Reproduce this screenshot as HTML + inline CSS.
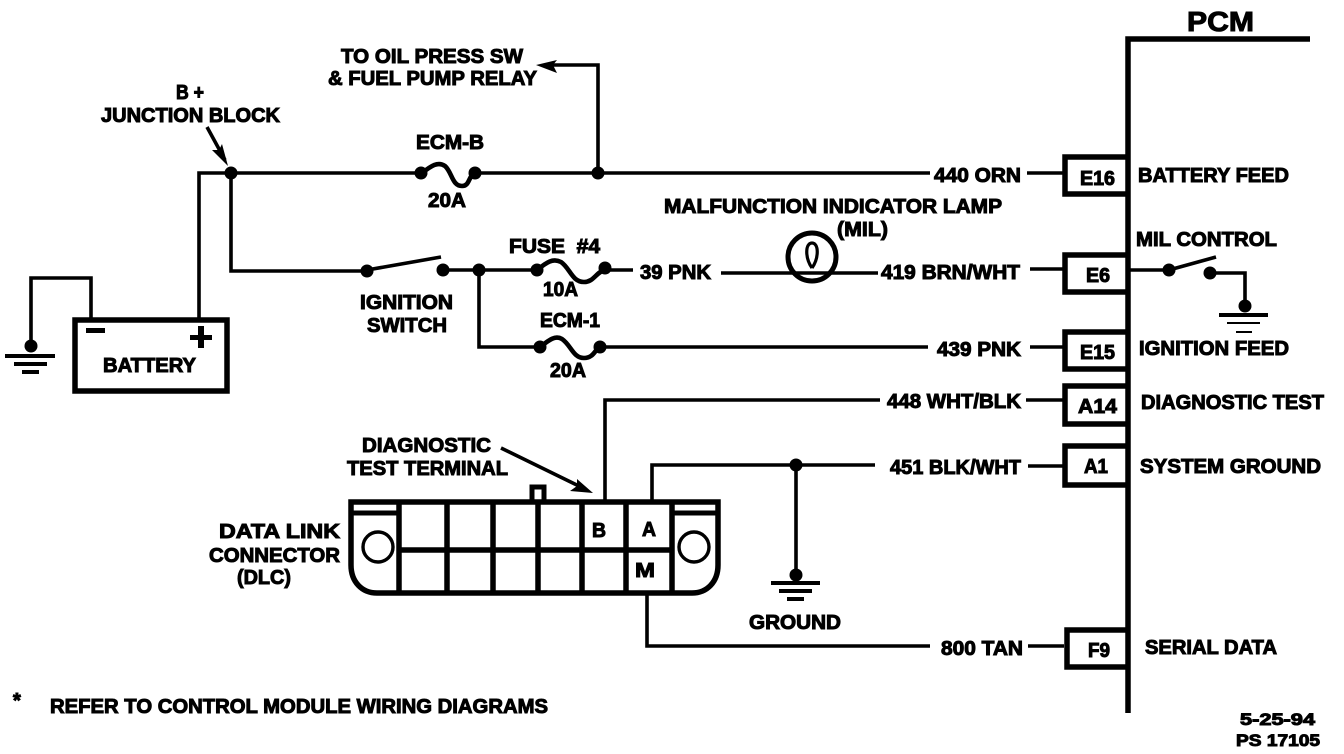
<!DOCTYPE html>
<html><head><meta charset="utf-8"><style>
html,body{margin:0;padding:0;background:#fff;width:1344px;height:754px;overflow:hidden}
svg{display:block}
text{font-family:"Liberation Sans",sans-serif;font-weight:bold;font-size:20px;fill:#000;stroke:#000;stroke-width:1px}
.w{fill:none;stroke:#000;stroke-width:3.6}
.f{fill:none;stroke:#000;stroke-width:4.6}
.t{fill:none;stroke:#000;stroke-width:5.5}
</style></head><body>
<svg width="1344" height="754" viewBox="0 0 1344 754" xmlns="http://www.w3.org/2000/svg">
<rect width="1344" height="754" fill="#fff"/>
<!-- PCM -->
<path class="t" d="M1310 39H1128V713"/>
<path class="t" d="M1128 157H1065V194H1128"/>
<path class="t" d="M1128 255H1065V292H1128"/>
<path class="t" d="M1128 332H1065V369H1128"/>
<path class="t" d="M1128 386H1065V424H1128"/>
<path class="t" d="M1128 446H1065V485H1128"/>
<path class="t" d="M1128 630H1067V667H1128"/>
<!-- wires -->
<path class="w" d="M199 318V173H422M475 173H930M598 173V65H552M1027 173H1064"/>
<path class="w" d="M231 173V271H367M367 270L441 257M443 270H537M605 270H633"/>
<path class="w" d="M479 270V347H540M600 347H928M1030 347H1064"/>
<path class="w" d="M721 273H878M1030 269H1064M1130 270H1169M1169 270L1216 257M1210 273H1245V306"/>
<path class="w" d="M605 500V400H880M1026 400H1064"/>
<path class="w" d="M652 502V465H875M1028 466H1064M796 465V575"/>
<path class="w" d="M647 593V646H930M1028 646H1064"/>
<path class="w" d="M91 318V278H31V346"/>
<!-- fuses -->
<path class="f" d="M422 173C431 166 438 161 445 166C452 172 452 186 462 186C470 186 468 176 475 173"/>
<path class="f" d="M537 270C547 262 553 258 561 262C570 268 572 282 584 282C594 282 596 272 605 270"/>
<path class="f" d="M540 347C549 340 555 335 562 339C571 345 573 358 584 358C594 358 595 349 600 347"/>
<!-- dots -->
<g fill="#000">
<circle cx="231" cy="173" r="6.5"/><circle cx="598" cy="173" r="6.5"/><circle cx="421" cy="173" r="6.5"/><circle cx="475" cy="173" r="6.5"/>
<circle cx="367" cy="271" r="6.5"/><circle cx="443" cy="270" r="6.5"/><circle cx="479" cy="270" r="6.5"/><circle cx="537" cy="270" r="6.5"/><circle cx="605" cy="268" r="6.5"/>
<circle cx="540" cy="347" r="6.5"/><circle cx="600" cy="347" r="6.5"/>
<circle cx="796" cy="465" r="6.5"/><circle cx="796" cy="575" r="6.5"/><circle cx="31" cy="346" r="6.5"/>
<circle cx="1169" cy="270" r="6.5"/><circle cx="1210" cy="273" r="6.5"/><circle cx="1245" cy="306" r="6.5"/>
<!-- grounds -->
<rect x="5" y="354" width="50" height="4"/><rect x="14" y="362" width="33" height="4"/><rect x="22" y="370" width="17" height="4"/>
<rect x="771" y="581" width="49" height="4"/><rect x="779" y="589" width="33" height="4"/><rect x="787" y="597" width="17" height="4"/>
<rect x="1219" y="313" width="49" height="4"/><rect x="1227" y="322" width="33" height="2"/><rect x="1236" y="331" width="16" height="2"/>
<!-- arrowheads -->
<polygon points="536,65 557,60 553,65 557,73"/>
<polygon points="228,166 212,150 219,150 222,144"/>
<polygon points="593,493 570,491 577,486 577,479"/>
<!-- battery signs -->
<rect x="86" y="328" width="19" height="5"/><rect x="190" y="335" width="22" height="5"/><rect x="198" y="326" width="6" height="22"/>
</g>
<path class="w" d="M207 127L225 160M501 448L585 489"/>
<!-- lamp -->
<circle cx="812" cy="257" r="24" fill="none" stroke="#000" stroke-width="5"/>
<path d="M812 268C805 258 805 243 812 243C819 243 819 258 812 268" fill="none" stroke="#000" stroke-width="3.2"/>
<rect class="t" x="75" y="320" width="152" height="71"/>
<!-- DLC -->
<path class="t" d="M351 502H718V565C718 582 707 593 692 593H377C362 593 351 582 351 565Z"/>
<path d="M399 502V593M447 502V593M493 502V593M538 502V593M582 502V593M626 502V593M672 502V593M399 550H672" fill="none" stroke="#000" stroke-width="5.5"/>
<path d="M352 513H398M672 513H718" fill="none" stroke="#000" stroke-width="5"/>
<path d="M532 502V487H544V502" fill="none" stroke="#000" stroke-width="5"/>
<circle cx="378" cy="547" r="15" fill="none" stroke="#000" stroke-width="3.4"/>
<circle cx="694" cy="547" r="15" fill="none" stroke="#000" stroke-width="3.4"/>
<!-- text -->
<g>
<text x="1187" y="31" textLength="67" lengthAdjust="spacingAndGlyphs" style="font-size:28px">PCM</text>
<text x="341" y="63" textLength="182" lengthAdjust="spacingAndGlyphs">TO OIL PRESS SW</text>
<text x="328" y="85" textLength="209" lengthAdjust="spacingAndGlyphs">&amp; FUEL PUMP RELAY</text>
<text x="176" y="99" textLength="28" lengthAdjust="spacingAndGlyphs">B +</text>
<text x="101" y="122" textLength="179" lengthAdjust="spacingAndGlyphs">JUNCTION BLOCK</text>
<text x="416" y="149" textLength="68" lengthAdjust="spacingAndGlyphs">ECM-B</text>
<text x="428" y="207" textLength="38" lengthAdjust="spacingAndGlyphs">20A</text>
<text x="934" y="182" textLength="87" lengthAdjust="spacingAndGlyphs">440 ORN</text>
<text x="1138" y="182" textLength="151" lengthAdjust="spacingAndGlyphs">BATTERY FEED</text>
<text x="1080" y="185" textLength="35" lengthAdjust="spacingAndGlyphs">E16</text>
<text x="664" y="213" textLength="338" lengthAdjust="spacingAndGlyphs">MALFUNCTION INDICATOR LAMP</text>
<text x="837" y="236" textLength="51" lengthAdjust="spacingAndGlyphs">(MIL)</text>
<text x="1136" y="246" textLength="141" lengthAdjust="spacingAndGlyphs">MIL CONTROL</text>
<text x="509" y="253" textLength="91" lengthAdjust="spacingAndGlyphs">FUSE &#160;#4</text>
<text x="640" y="279" textLength="71" lengthAdjust="spacingAndGlyphs">39 PNK</text>
<text x="543" y="296" textLength="35" lengthAdjust="spacingAndGlyphs">10A</text>
<text x="881" y="279" textLength="139" lengthAdjust="spacingAndGlyphs">419 BRN/WHT</text>
<text x="1086" y="282" textLength="24" lengthAdjust="spacingAndGlyphs">E6</text>
<text x="360" y="309" textLength="93" lengthAdjust="spacingAndGlyphs">IGNITION</text>
<text x="367" y="332" textLength="80" lengthAdjust="spacingAndGlyphs">SWITCH</text>
<text x="540" y="327" textLength="60" lengthAdjust="spacingAndGlyphs">ECM-1</text>
<text x="550" y="377" textLength="36" lengthAdjust="spacingAndGlyphs">20A</text>
<text x="937" y="356" textLength="84" lengthAdjust="spacingAndGlyphs">439 PNK</text>
<text x="1080" y="359" textLength="35" lengthAdjust="spacingAndGlyphs">E15</text>
<text x="1139" y="355" textLength="150" lengthAdjust="spacingAndGlyphs">IGNITION FEED</text>
<text x="103" y="372" textLength="93" lengthAdjust="spacingAndGlyphs">BATTERY</text>
<text x="887" y="408" textLength="134" lengthAdjust="spacingAndGlyphs">448 WHT/BLK</text>
<text x="1078" y="413" textLength="39" lengthAdjust="spacingAndGlyphs">A14</text>
<text x="1141" y="409" textLength="183" lengthAdjust="spacingAndGlyphs">DIAGNOSTIC TEST</text>
<text x="362" y="452" textLength="129" lengthAdjust="spacingAndGlyphs">DIAGNOSTIC</text>
<text x="347" y="475" textLength="161" lengthAdjust="spacingAndGlyphs">TEST TERMINAL</text>
<text x="890" y="474" textLength="131" lengthAdjust="spacingAndGlyphs">451 BLK/WHT</text>
<text x="1084" y="473" textLength="24" lengthAdjust="spacingAndGlyphs">A1</text>
<text x="1140" y="473" textLength="181" lengthAdjust="spacingAndGlyphs">SYSTEM GROUND</text>
<text x="219" y="538" textLength="121" lengthAdjust="spacingAndGlyphs">DATA LINK</text>
<text x="209" y="562" textLength="131" lengthAdjust="spacingAndGlyphs">CONNECTOR</text>
<text x="237" y="584" textLength="54" lengthAdjust="spacingAndGlyphs">(DLC)</text>
<text x="592" y="537" textLength="14" lengthAdjust="spacingAndGlyphs">B</text>
<text x="642" y="536" textLength="14" lengthAdjust="spacingAndGlyphs">A</text>
<text x="635" y="577" textLength="20" lengthAdjust="spacingAndGlyphs">M</text>
<text x="749" y="629" textLength="92" lengthAdjust="spacingAndGlyphs">GROUND</text>
<text x="941" y="655" textLength="82" lengthAdjust="spacingAndGlyphs">800 TAN</text>
<text x="1088" y="657" textLength="22" lengthAdjust="spacingAndGlyphs">F9</text>
<text x="1145" y="654" textLength="132" lengthAdjust="spacingAndGlyphs">SERIAL DATA</text>
<text x="13" y="707">*</text>
<text x="50" y="713" textLength="498" lengthAdjust="spacingAndGlyphs">REFER TO CONTROL MODULE WIRING DIAGRAMS</text>
<text x="1240" y="725" textLength="75" lengthAdjust="spacingAndGlyphs" style="font-size:17px">5-25-94</text>
<text x="1236" y="746" textLength="84" lengthAdjust="spacingAndGlyphs" style="font-size:17px">PS 17105</text>
</g>
</svg>
</body></html>
